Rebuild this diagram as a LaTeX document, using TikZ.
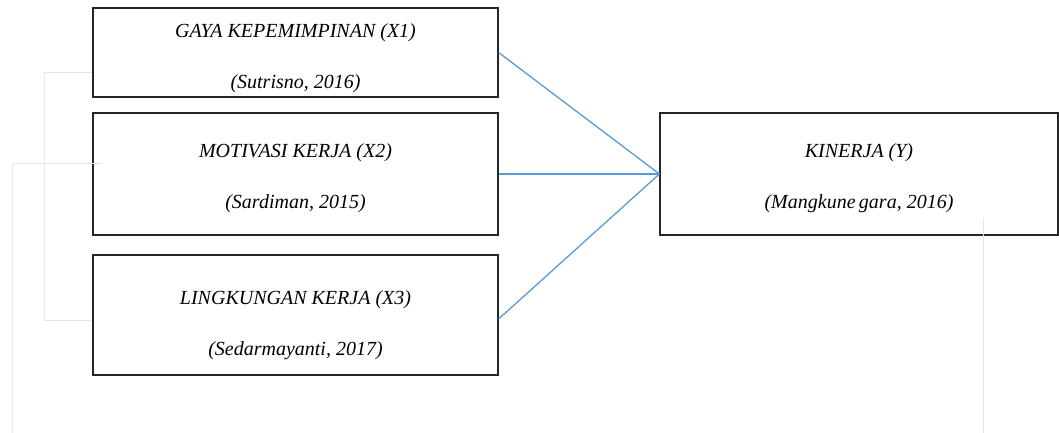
\documentclass[tikz,border=0pt]{standalone}
\usepackage{fontspec}
\setmainfont{Liberation Serif}
\usetikzlibrary{positioning,calc}
\definecolor{linkblue}{HTML}{5B9BD5}
\definecolor{faintgray}{HTML}{E4E7F3}
\tikzset{varbox/.style={rectangle, draw=black!85, line width=1.2pt, minimum width=405pt, text depth=4pt, font=\itshape\fontsize{20}{24}\selectfont, align=center, execute at begin node=\setlength{\baselineskip}{51pt}},
	link/.style={draw=linkblue, line width=1.3pt},
	faint/.style={draw=faintgray, line width=1pt}}

\begin{document}
\begin{tikzpicture}[x=1pt,y=-1pt]
		\useasboundingbox (0,0) rectangle (1059,433);
		% variabel bebas
		\node[varbox, minimum height=89pt, text height=76pt] (X1) at (295.5,52.5) {GAYA KEPEMIMPINAN (X1)\\ (Sutrisno, 2016)};
		\node[varbox, minimum height=122pt, text height=72pt] (X2) at (295.5,174) {MOTIVASI KERJA (X2)\\ (Sardiman, 2015)};
		\node[varbox, minimum height=120pt, text height=84pt] (X3) at (295.5,315) {LINGKUNGAN KERJA (X3)\\ (Sedarmayanti, 2017)};
		% variabel terikat
		\node[varbox, minimum width=398pt, minimum height=122pt, text height=72pt] (Y) at (859,174) {KINERJA (Y)\\ (Mangkune\,gara, 2016)};
		% garis hubungan
		\draw[link] (X1.east) -- (Y.west);
		\draw[link] (X2.east) -- (Y.west);
		\draw[link] ([yshift=-4pt]X3.east) -- (Y.west);
		% garis tipis
		\coordinate (b1) at (44,320);
		\coordinate (b2) at (12,433);
		\coordinate (b3) at (983,433);
		\draw[faint] (X1.west |- 0,73) -| (b1) -- (X3.west |- b1);
		\draw[faint] (102,163) -| (b2);
		\draw[faint] (983,218) -- (b3);
		\end{tikzpicture}
\end{document}
